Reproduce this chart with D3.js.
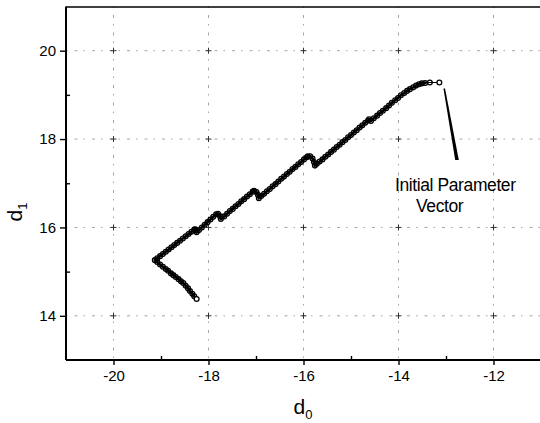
<!DOCTYPE html>
<html>
<head>
<meta charset="utf-8">
<script src="https://cdn.jsdelivr.net/npm/d3@7/dist/d3.min.js"></script>
<style>
  html, body { margin: 0; padding: 0; background: #fff; }
  svg { display: block; }
  text { font-family: "Liberation Sans", Arial, sans-serif; fill: #000; }
</style>
</head>
<body>
<svg id="chart" width="540" height="423"></svg>
<script>
// Parameter trajectory (d0, d1), starting at the initial parameter vector
const d0 = [
  -13.14, -13.34, -13.44, -13.51, -13.57, -13.63, -13.69, -13.76, -13.82, -13.88,
  -13.95, -14.01, -14.07, -14.14, -14.20, -14.26, -14.33, -14.39, -14.45, -14.52, -14.58,
  -14.62, -14.64, -14.70, -14.76, -14.82, -14.88, -14.94, -15.00, -15.06, -15.12,
  -15.18, -15.24, -15.30, -15.36, -15.42, -15.48, -15.54, -15.60, -15.66, -15.72, -15.76,
  -15.78, -15.81, -15.86, -15.91,
  -15.93, -15.99, -16.05, -16.11, -16.17, -16.23, -16.29, -16.35, -16.41, -16.47,
  -16.53, -16.59, -16.65, -16.71, -16.77, -16.83, -16.89, -16.94,
  -16.96, -16.99, -17.04,
  -17.07, -17.13, -17.19, -17.25, -17.31, -17.37, -17.43, -17.49, -17.55, -17.61, -17.67, -17.74,
  -17.76, -17.80,
  -17.84, -17.90, -17.96, -18.02, -18.08, -18.14, -18.20, -18.25,
  -18.26, -18.28,
  -18.30, -18.36, -18.42, -18.48, -18.54, -18.60, -18.66, -18.72, -18.78, -18.84,
  -18.90, -18.96, -19.02, -19.08, -19.13,
  -19.08, -19.02, -18.96, -18.90, -18.85, -18.79, -18.74, -18.69, -18.63, -18.58, -18.53,
  -18.48, -18.43, -18.39, -18.34, -18.30, -18.25
];
const d1 = [
  19.28, 19.28, 19.27, 19.26, 19.24, 19.21, 19.17, 19.13, 19.09, 19.04,
  18.99, 18.93, 18.88, 18.82, 18.76, 18.70, 18.64, 18.59, 18.53, 18.47, 18.41,
  18.45, 18.42, 18.37, 18.31, 18.26, 18.20, 18.15, 18.09, 18.04, 17.98,
  17.93, 17.87, 17.82, 17.76, 17.71, 17.65, 17.60, 17.54, 17.49, 17.44, 17.40,
  17.48, 17.56, 17.61, 17.61,
  17.59, 17.54, 17.48, 17.43, 17.37, 17.32, 17.26, 17.21, 17.15, 17.10,
  17.04, 16.98, 16.93, 16.87, 16.82, 16.76, 16.71, 16.66,
  16.74, 16.80, 16.83,
  16.81, 16.75, 16.70, 16.64, 16.59, 16.53, 16.48, 16.42, 16.37, 16.31, 16.25, 16.19,
  16.26, 16.31,
  16.30, 16.24, 16.18, 16.12, 16.06, 16.00, 15.94, 15.89,
  15.93, 15.96,
  15.95, 15.90, 15.85, 15.80, 15.75, 15.70, 15.65, 15.60, 15.55, 15.50,
  15.45, 15.40, 15.35, 15.30, 15.26,
  15.22, 15.16, 15.11, 15.06, 15.02, 14.96, 14.92, 14.88, 14.83, 14.78, 14.74,
  14.68, 14.62, 14.56, 14.50, 14.44, 14.38
];

const xMajor = [-20, -18, -16, -14, -12];
const xMinor = [-19, -17, -15, -13, -11];
const yMajor = [14, 16, 18, 20];
const yMinor = [15, 17, 19];

const annotationLines = ["Initial Parameter", "Vector"];

(function drawChart() {
  const svg = d3.select("#chart");
  const W = 540;
  const mLeft = 66, mRight = 541, mTop = 6.5, mBottom = 360;

  const x = d3.scaleLinear().domain([-21, -11]).range([mLeft, mRight]);
  const y = d3.scaleLinear().domain([13, 21]).range([mBottom, mTop]);

  // Grid: broken dash-dot lines at major ticks
  const grid = svg.append("g").attr("stroke", "#9a9a9a").attr("stroke-width", 0.9)
    .attr("stroke-dasharray", "1.5,7,3,6").attr("fill", "none");
  grid.selectAll("line.v").data(xMajor).join("line").attr("class", "v")
    .attr("x1", d => x(d)).attr("x2", d => x(d)).attr("y1", mTop).attr("y2", mBottom);
  grid.selectAll("line.h").data(yMajor).join("line").attr("class", "h")
    .attr("y1", d => y(d)).attr("y2", d => y(d)).attr("x1", mLeft).attr("x2", W);

  // Small crosses where the grid lines meet
  const crosses = [];
  xMajor.forEach(a => yMajor.forEach(b => crosses.push([a, b])));
  svg.append("g").attr("stroke", "#333").attr("stroke-width", 1)
    .selectAll("path").data(crosses).join("path")
    .attr("d", d => `M${x(d[0]) - 3},${y(d[1])}h6M${x(d[0])},${y(d[1]) - 3}v6`);

  // Top frame line
  svg.append("line").attr("x1", mLeft).attr("x2", W).attr("y1", mTop + 0.5).attr("y2", mTop + 0.5)
    .attr("stroke", "#000").attr("stroke-width", 1.6);

  // Axes
  const xAxis = svg.append("g").attr("transform", `translate(0,${mBottom})`)
    .call(d3.axisBottom(x).tickValues(xMajor).tickSize(5).tickSizeOuter(0).tickPadding(5)
      .tickFormat(d => String(d)));
  const xAxisMinor = svg.append("g").attr("transform", `translate(0,${mBottom})`)
    .call(d3.axisBottom(x).tickValues(xMinor).tickSize(-4).tickSizeOuter(0).tickFormat(""));
  const yAxis = svg.append("g").attr("transform", `translate(${mLeft},0)`)
    .call(d3.axisLeft(y).tickValues(yMajor).tickSize(6).tickSizeOuter(0).tickPadding(4));
  const yAxisMinor = svg.append("g").attr("transform", `translate(${mLeft},0)`)
    .call(d3.axisLeft(y).tickValues(yMinor).tickSize(-4).tickSizeOuter(0).tickFormat(""));

  [xAxis, xAxisMinor, yAxis, yAxisMinor].forEach(g => {
    g.select(".domain").attr("stroke", "#000").attr("stroke-width", 2);
    g.selectAll(".tick line").attr("stroke", "#000").attr("stroke-width", 1.4);
    g.selectAll(".tick text").attr("font-size", 15)
      .attr("font-family", "Liberation Sans, Arial, sans-serif").attr("fill", "#000");
  });
  xAxis.select(".domain").attr("d", `M${mLeft},0H${W}`);
  xAxisMinor.select(".domain").remove();
  yAxisMinor.select(".domain").remove();
  yAxis.select(".domain").attr("d", `M0,${mTop}V${mBottom}`);

  // Axis titles
  const xt = svg.append("text").attr("x", 303).attr("y", 414).attr("text-anchor", "middle")
    .attr("font-size", 21);
  xt.append("tspan").text("d");
  xt.append("tspan").attr("font-size", 13).attr("dy", 5).text("0");

  const yt = svg.append("text").attr("transform", "translate(22,212) rotate(-90)")
    .attr("text-anchor", "middle").attr("font-size", 21);
  yt.append("tspan").text("d");
  yt.append("tspan").attr("font-size", 13).attr("dy", 5).text("1");

  // Trajectory: connecting line and open circle markers
  const pts = d0.map((v, i) => [v, d1[i]]);
  const line = d3.line().x(d => x(d[0])).y(d => y(d[1]));
  svg.append("path").datum(pts.slice(0, 3))
    .attr("fill", "none").attr("stroke", "#000").attr("stroke-width", 1.2)
    .attr("d", line);
  svg.append("path").datum(pts.slice(2))
    .attr("fill", "none").attr("stroke", "#000").attr("stroke-width", 2.8)
    .attr("stroke-linejoin", "round").attr("stroke-linecap", "round")
    .attr("d", line);
  svg.append("g").selectAll("circle").data(pts).join("circle")
    .attr("cx", d => x(d[0])).attr("cy", d => y(d[1])).attr("r", 2.4)
    .attr("fill", (d, i) => (i === 0 || i === pts.length - 1) ? "#fff" : "none")
    .attr("stroke", "#000").attr("stroke-width", 1.3);

  // Annotation pointer toward the first point
  const tipX = x(-13.1) + 3, tipY = y(19.28) + 6;
  const baseX = 457, baseY = 160;
  svg.append("path")
    .attr("d", `M${tipX - 0.8},${tipY} L${tipX + 0.8},${tipY} L${baseX + 1.8},${baseY} L${baseX - 1.8},${baseY} Z`)
    .attr("fill", "#000");

  svg.append("text").attr("x", 395).attr("y", 191).attr("font-size", 17.5)
    .attr("letter-spacing", -0.4).text(annotationLines[0]);
  svg.append("text").attr("x", 416).attr("y", 212).attr("font-size", 17.5)
    .attr("letter-spacing", -0.4).text(annotationLines[1]);
})();
</script>
</body>
</html>
